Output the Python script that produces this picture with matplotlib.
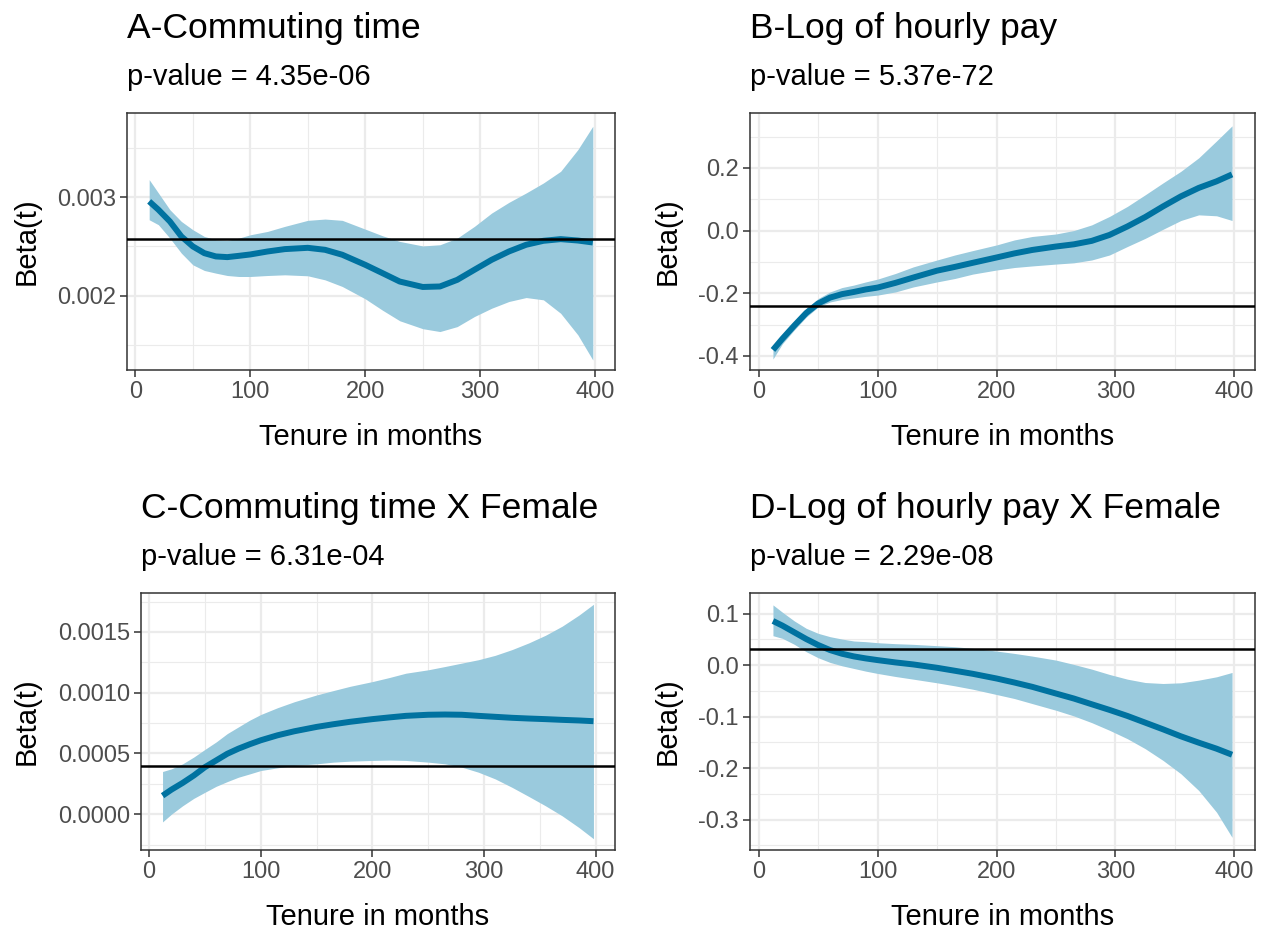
import matplotlib
matplotlib.use("Agg")
import matplotlib.pyplot as plt
from matplotlib.ticker import MultipleLocator

plt.rcParams['font.family'] = ['Liberation Sans', 'DejaVu Sans']

# tenure grid (months) where the smooth estimates are taken
tenure = [12, 20, 30, 40, 50, 60, 70, 80, 90, 100, 115, 130, 150, 165, 180,
          200, 215, 230, 250, 265, 280, 295, 310, 325, 340, 355, 370, 385, 398]

# A - commuting time
commute_fit = [0.002956, 0.002872, 0.002753, 0.002601, 0.0025, 0.002432, 0.002399, 0.002392, 0.002405, 0.002419,
               0.002449, 0.002473, 0.002486, 0.002466, 0.002416, 0.002314, 0.00223, 0.002145, 0.00209, 0.002095,
               0.002162, 0.002264, 0.002365, 0.002449, 0.002517, 0.002557, 0.002574, 0.00256, 0.00254]
commute_hi = [0.003176, 0.003041, 0.002872, 0.002753, 0.002669, 0.002601, 0.002568, 0.002561, 0.002584, 0.002618,
              0.002652, 0.002703, 0.002764, 0.002777, 0.002764, 0.002675, 0.002608, 0.002551, 0.002505, 0.002517,
              0.002584, 0.002703, 0.002838, 0.002946, 0.003041, 0.003142, 0.00326, 0.00348, 0.003716]
commute_lo = [0.00277, 0.00272, 0.002584, 0.002432, 0.002314, 0.002257, 0.00223, 0.002206, 0.002196, 0.002196,
              0.002206, 0.002213, 0.002203, 0.002162, 0.002095, 0.00197, 0.001855, 0.001748, 0.001668, 0.001639,
              0.001689, 0.001791, 0.001875, 0.001943, 0.001983, 0.00196, 0.001824, 0.001605, 0.001351]
commute_const = 0.002578

# B - log of hourly pay
pay_fit = [-0.381, -0.345, -0.303, -0.263, -0.233, -0.214, -0.203, -0.196, -0.188, -0.182,
           -0.167, -0.150, -0.128, -0.116, -0.103, -0.086, -0.073, -0.062, -0.051, -0.044,
           -0.033, -0.014, 0.013, 0.043, 0.077, 0.109, 0.136, 0.157, 0.179]
pay_hi = [-0.367, -0.335, -0.292, -0.249, -0.217, -0.196, -0.182, -0.174, -0.164, -0.155,
          -0.137, -0.116, -0.094, -0.078, -0.064, -0.046, -0.030, -0.019, -0.011, 0.0,
          0.018, 0.045, 0.077, 0.114, 0.152, 0.189, 0.232, 0.286, 0.334]
pay_lo = [-0.41, -0.361, -0.317, -0.276, -0.244, -0.228, -0.22, -0.215, -0.21, -0.206,
          -0.196, -0.18, -0.164, -0.153, -0.139, -0.126, -0.118, -0.113, -0.107, -0.103,
          -0.094, -0.078, -0.051, -0.025, 0.004, 0.032, 0.05, 0.047, 0.032]
pay_const = -0.242

# C - commuting time x female
commute_f_fit = [0.000152, 0.000202, 0.000257, 0.000318, 0.000387, 0.000442, 0.000497, 0.000539, 0.000575, 0.000608,
                 0.000649, 0.000682, 0.000718, 0.00074, 0.00076, 0.000782, 0.000796, 0.000809, 0.000818, 0.00082,
                 0.000818, 0.000809, 0.000801, 0.000793, 0.000787, 0.000782, 0.000776, 0.000771, 0.000765]
commute_f_hi = [0.000351, 0.000373, 0.000414, 0.00047, 0.000533, 0.000594, 0.000663, 0.000718, 0.000773, 0.00082,
                0.000876, 0.000925, 0.000981, 0.001017, 0.001052, 0.001091, 0.001124, 0.00116, 0.001188, 0.001215,
                0.001243, 0.001271, 0.001307, 0.001354, 0.001409, 0.001472, 0.001547, 0.001638, 0.001727]
commute_f_lo = [-0.000064, 0.0, 0.000069, 0.00013, 0.00018, 0.000229, 0.000268, 0.000304, 0.000331, 0.000359,
                0.000381, 0.000401, 0.000414, 0.000428, 0.000436, 0.000442, 0.000445, 0.000442, 0.000428, 0.000414,
                0.000387, 0.000345, 0.00029, 0.000221, 0.000146, 0.000069, -0.000014, -0.00011, -0.000202]
commute_f_const = 0.000398

# D - log of hourly pay x female
pay_f_fit = [0.0857, 0.0766, 0.0636, 0.0506, 0.039, 0.0292, 0.0221, 0.0169, 0.013, 0.0097,
             0.0052, 0.0013, -0.0052, -0.011, -0.0169, -0.026, -0.0338, -0.0422, -0.0552, -0.0649,
             -0.076, -0.087, -0.0987, -0.1117, -0.1247, -0.1383, -0.1506, -0.1623, -0.174]
pay_f_hi = [0.1169, 0.1026, 0.0857, 0.0714, 0.0617, 0.0552, 0.0506, 0.0468, 0.0455, 0.0435,
            0.0416, 0.0403, 0.0377, 0.0357, 0.0325, 0.0273, 0.0227, 0.0175, 0.0097, 0.0013,
            -0.0078, -0.0182, -0.0273, -0.0338, -0.0357, -0.0344, -0.0292, -0.0227, -0.0143]
pay_f_lo = [0.0571, 0.0519, 0.0403, 0.026, 0.0143, 0.0052, -0.0013, -0.0065, -0.0117, -0.0162,
            -0.0221, -0.0273, -0.0344, -0.0403, -0.0468, -0.0571, -0.0649, -0.0747, -0.0877, -0.0987,
            -0.1117, -0.1266, -0.1429, -0.1623, -0.1851, -0.211, -0.2435, -0.2857, -0.3344]
pay_f_const = 0.031

titles = ["A-Commuting time", "B-Log of hourly pay",
          "C-Commuting time X Female", "D-Log of hourly pay X Female"]
pvalues = ["4.35e-06", "5.37e-72", "6.31e-04", "2.29e-08"]

LINE = "#0072A0"
BAND = "#9ACADD"
GREY = "#4D4D4D"
W, H = 1262, 931


def panel(rect, fit, lo, hi, const, title, pval, ymajor, yminor, fmt):
    l, t, r, b = rect
    ax = fig.add_axes([l / W, 1 - b / H, (r - l) / W, (b - t) / H])
    ax.fill_between(tenure, lo, hi, color=BAND, lw=0, zorder=2)
    ax.plot(tenure, fit, color=LINE, lw=4.3, solid_capstyle='butt', solid_joinstyle='round', zorder=3)
    ax.axhline(const, color='black', lw=1.8, zorder=4)

    ax.set_xlim(-7.3, 417.3)
    ax.xaxis.set_major_locator(MultipleLocator(100))
    ax.xaxis.set_minor_locator(MultipleLocator(50))
    ax.yaxis.set_major_locator(MultipleLocator(ymajor))
    ax.yaxis.set_minor_locator(MultipleLocator(yminor))
    ax.yaxis.set_major_formatter(plt.FuncFormatter(lambda v, p: fmt.format(v + 0.0)))
    ax.grid(which='major', color='#EBEBEB', lw=1.6, zorder=0)
    ax.grid(which='minor', color='#EBEBEB', lw=0.8, zorder=0)
    ax.set_axisbelow(True)
    for s in ax.spines.values():
        s.set_color('#333333')
        s.set_linewidth(1.1)
    ax.tick_params(which='major', length=5, width=1.1, color='#333333',
                   labelsize=17, labelcolor=GREY, pad=3)
    ax.tick_params(which='minor', length=0)
    ax.set_xlabel("Tenure in months", fontsize=21, labelpad=14)
    ax.set_ylabel("Beta(t)", fontsize=21, labelpad=12)

    fig.text(l / W, 1 - (t - 75) / H, title, fontsize=25.5, ha='left', va='baseline')
    fig.text(l / W, 1 - (t - 28) / H, "p-value = " + pval, fontsize=21, ha='left', va='baseline')
    return ax


fig = plt.figure(figsize=(W / 100, H / 100), dpi=100)

axA = panel((127, 113, 615, 370), commute_fit, commute_lo, commute_hi, commute_const,
            titles[0], pvalues[0], 0.001, 0.0005, "{:.3f}")
axA.set_ylim(0.00125, 0.00385)

axB = panel((750, 113, 1255, 370), pay_fit, pay_lo, pay_hi, pay_const,
            titles[1], pvalues[1], 0.2, 0.1, "{:.1f}")
axB.set_ylim(-0.445, 0.375)

axC = panel((141, 593, 615, 850), commute_f_fit, commute_f_lo, commute_f_hi, commute_f_const,
            titles[2], pvalues[2], 0.0005, 0.00025, "{:.4f}")
axC.set_ylim(-0.000295, 0.00182)

axD = panel((750, 593, 1255, 850), pay_f_fit, pay_f_lo, pay_f_hi, pay_f_const,
            titles[3], pvalues[3], 0.1, 0.05, "{:.1f}")
axD.set_ylim(-0.359, 0.14)

fig.savefig("out.png", dpi=100)
